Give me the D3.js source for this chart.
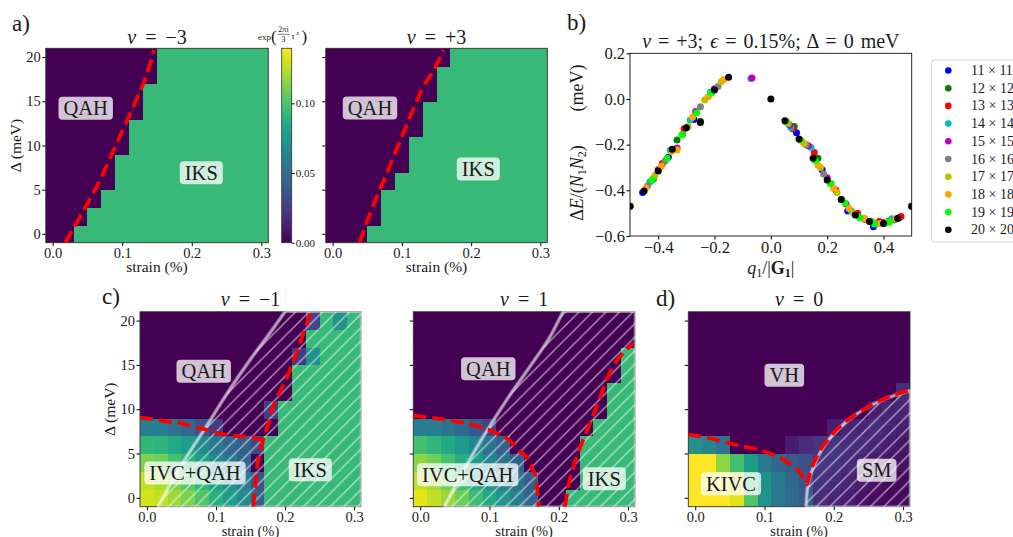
<!DOCTYPE html>
<html><head><meta charset="utf-8">
<script src="https://cdn.jsdelivr.net/npm/d3@7"></script>
<style>body{margin:0;background:#fff}svg{display:block}text{font-family:"Liberation Serif","DejaVu Serif",serif;fill:#1a1a1a}</style>
</head><body>
<svg id="fig" width="1013" height="537"></svg>
<script>
// ---------------- DATA ----------------
const strain = [0,0.02,0.04,0.06,0.08,0.10,0.12,0.14,0.16,0.18,0.20,0.22,0.24,0.26,0.28,0.30];
const delta = [0,2,4,6,8,10,12,14,16,18,20];
const strainTicks = [0,0.1,0.2,0.3];
const strainTickLabels = ["0.0","0.1","0.2","0.3"];
const deltaTicks = [0,5,10,15,20];
const cbTicks = [0,0.05,0.10];
const cbTickLabels = ["0.00","0.05","0.10"];
const VMAX = 0.1395;
const K = 0.094; // IKS order parameter

// rows: Delta = 0,2,...,20 ; columns: strain 0..0.30
const gridNuM3 = [
 [0,0,K,K,K,K,K,K,K,K,K,K,K,K,K,K],
 [0,0,0,K,K,K,K,K,K,K,K,K,K,K,K,K],
 [0,0,0,0,K,K,K,K,K,K,K,K,K,K,K,K],
 [0,0,0,0,0,K,K,K,K,K,K,K,K,K,K,K],
 [0,0,0,0,0,K,K,K,K,K,K,K,K,K,K,K],
 [0,0,0,0,0,0,K,K,K,K,K,K,K,K,K,K],
 [0,0,0,0,0,0,K,K,K,K,K,K,K,K,K,K],
 [0,0,0,0,0,0,0,K,K,K,K,K,K,K,K,K],
 [0,0,0,0,0,0,0,K,K,K,K,K,K,K,K,K],
 [0,0,0,0,0,0,0,0,K,K,K,K,K,K,K,K],
 [0,0,0,0,0,0,0,0,K,K,K,K,K,K,K,K]];
const gridNuP3 = [
 [0,0,0,K,K,K,K,K,K,K,K,K,K,K,K,K],
 [0,0,0,0,K,K,K,K,K,K,K,K,K,K,K,K],
 [0,0,0,0,K,K,K,K,K,K,K,K,K,K,K,K],
 [0,0,0,0,0,K,K,K,K,K,K,K,K,K,K,K],
 [0,0,0,0,0,0,K,K,K,K,K,K,K,K,K,K],
 [0,0,0,0,0,0,K,K,K,K,K,K,K,K,K,K],
 [0,0,0,0,0,0,0,K,K,K,K,K,K,K,K,K],
 [0,0,0,0,0,0,0,K,K,K,K,K,K,K,K,K],
 [0,0,0,0,0,0,0,0,K,K,K,K,K,K,K,K],
 [0,0,0,0,0,0,0,0,K,K,K,K,K,K,K,K],
 [0,0,0,0,0,0,0,0,0,K,K,K,K,K,K,K]];
const gridNuM1 = [
 [.130,.126,.119,.112,.101,.088,.077,.066,.042,K,K,K,K,K,K,K],
 [.126,.122,.112,.104,.092,.081,.070,.059,.035,K,K,K,K,K,K,K],
 [.112,.108,.098,.090,.078,.067,.056,.046,0,K,K,K,K,K,K,K],
 [.092,.090,.084,.077,.067,.056,.046,.042,.031,K,K,K,K,K,K,K],
 [.059,.059,.053,.046,.035,.025,0,0,0,0,K,K,K,K,K,K],
 [0,0,0,0,0,0,0,0,0,.025,K,K,K,K,K,K],
 [0,0,0,0,0,0,0,0,0,0,0,K,K,K,K,K],
 [0,0,0,0,0,0,0,0,0,0,0,K,K,K,K,K],
 [0,0,0,0,0,0,0,0,0,0,0,.025,.070,K,K,K],
 [0,0,0,0,0,0,0,0,0,0,0,0,K,K,K,K],
 [0,0,0,0,0,0,0,0,0,0,0,0,.028,K,.070,K]];
const gridNuP1 = [
 [.134,.126,.118,.108,.095,.084,.073,.059,.045,0,0,K,K,K,K,K],
 [.126,.120,.109,.098,.084,.073,.063,.053,.042,0,0,0,K,K,K,K],
 [.115,.109,.098,.087,.076,.064,.053,.042,0,0,0,0,K,K,K,K],
 [.098,.092,.084,.076,.064,.053,.042,0,0,0,0,0,K,K,K,K],
 [.059,.059,.053,.048,.039,.028,0,0,0,0,0,0,0,K,K,K],
 [0,0,0,0,0,0,0,0,0,0,0,0,0,0,K,K],
 [0,0,0,0,0,0,0,0,0,0,0,0,0,0,K,K],
 [0,0,0,0,0,0,0,0,0,0,0,0,0,0,0,K],
 [0,0,0,0,0,0,0,0,0,0,0,0,0,0,0,K],
 [0,0,0,0,0,0,0,0,0,0,0,0,0,0,0,0],
 [0,0,0,0,0,0,0,0,0,0,0,0,0,0,0,0]];
const gridNu0 = [
 [.140,.140,.140,.133,.101,.073,.056,.048,.039,.017,.014,.011,.007,.004,.003,.003],
 [.140,.140,.140,.126,.095,.070,.056,.046,.038,.020,.017,.014,.010,.007,.004,.003],
 [.140,.140,.115,.098,.077,.056,.046,.039,.034,.022,.021,.017,.014,.010,.007,.006],
 [.070,.063,.053,0,0,0,0,.011,.017,.021,.021,.018,.017,.014,.011,.008],
 [0,0,0,0,0,0,0,0,0,0,.011,.014,.014,.017,.014,.011],
 [0,0,0,0,0,0,0,0,0,0,0,0,0,.011,.014,.014],
 [0,0,0,0,0,0,0,0,0,0,0,0,0,0,0,.017],
 [0,0,0,0,0,0,0,0,0,0,0,0,0,0,0,0],
 [0,0,0,0,0,0,0,0,0,0,0,0,0,0,0,0],
 [0,0,0,0,0,0,0,0,0,0,0,0,0,0,0,0],
 [0,0,0,0,0,0,0,0,0,0,0,0,0,0,0,0]];

// phase boundaries [strain, Delta]
const bndNuM3 = [[0.018,-1],[0.039,1.9],[0.068,6.1],[0.092,10.25],[0.116,14.4],[0.135,18],[0.146,20.8]];
const bndNuP3 = [[0.039,-1],[0.054,2.3],[0.073,5.9],[0.092,9.5],[0.111,13.1],[0.130,16.5],[0.150,19.1],[0.160,20.8]];
const bndNuM1a = [[-0.01,9.05],[0.011,8.85],[0.031,8.6],[0.05,8.4],[0.069,8.0],[0.091,7.6],[0.108,7.2],[0.127,7.0],[0.147,6.85],[0.168,6.5]];
const bndNuM1b = [[0.154,-1],[0.157,1.4],[0.160,3.7],[0.166,5.9],[0.176,8.4],[0.182,10.1],[0.19,11.6],[0.20,13.1],[0.209,14.8],[0.217,16.5],[0.224,18.0],[0.231,19.5],[0.237,20.9]];
const bndNuP1a = [[-0.01,9.26],[0.0155,9.04],[0.04,8.77],[0.068,8.4],[0.0925,7.83],[0.112,7.26],[0.131,6.32],[0.145,5.19],[0.155,4.43],[0.162,3.3],[0.167,2.17],[0.169,1.04],[0.171,-1]];
const bndNuP1b = [[0.209,-1],[0.213,1.04],[0.222,3.68],[0.234,6.3],[0.246,8.58],[0.259,11.2],[0.27,13.5],[0.283,15.4],[0.295,16.5],[0.308,17.45]];
const bndNu0 = [[-0.01,7.12],[0.0155,6.82],[0.04,6.37],[0.068,5.81],[0.0925,5.43],[0.112,4.86],[0.131,4.11],[0.145,3.36],[0.155,2.42],[0.161,1.5],[0.1656,2.8],[0.1767,4.87],[0.1935,6.75],[0.2176,8.63],[0.2464,10.13],[0.275,11.26],[0.308,12.09]];
// hatched region edges
const edgeNuM1 = [[0.016,-1],[0.05,3.7],[0.084,7.8],[0.118,12.0],[0.151,15.75],[0.18,18.8],[0.20,21]];
const edgeNuP1 = [[0.035,-1],[0.064,3.3],[0.0925,7.1],[0.126,11.2],[0.16,15.0],[0.189,18.4],[0.206,21]];
const edgeNu0 = [[0.16,-1],[0.162,1.1],[0.17,3.35],[0.184,5.6],[0.203,7.5],[0.232,9.4],[0.266,10.9],[0.31,12.1]];

// panel b: dispersion, [q1/|G1|, dE/(N1N2)]
const sizeLabels = ["11 × 11","12 × 12","13 × 13","14 × 14","15 × 15","16 × 16","17 × 17","18 × 18","19 × 19","20 × 20"];
const sizeColors = ["#0000ff","#008000","#ff0000","#00bfbf","#bf00bf","#808080","#bfbf00","#ffa500","#00ff00","#000000"];
const disp11 = [[-0.455,-0.41],[-0.364,-0.255],[-0.273,-0.09],[0.091,-0.148],[0.182,-0.31],[0.273,-0.49],[0.364,-0.56],[0.455,-0.52]];
const disp12 = [[-0.5,-0.47],[-0.417,-0.35],[-0.333,-0.18],[-0.25,-0.097],[0.083,-0.12],[0.167,-0.26],[0.25,-0.44],[0.333,-0.525],[0.417,-0.535],[0.5,-0.47]];
const disp13 = [[-0.385,-0.282],[-0.308,-0.13],[0.077,-0.13],[0.154,-0.234],[0.231,-0.40],[0.308,-0.50],[0.385,-0.537],[0.462,-0.515]];
const disp14 = [[-0.5,-0.47],[-0.429,-0.362],[-0.357,-0.225],[-0.286,-0.092],[-0.214,0.03],[-0.071,0.09],[0.071,-0.125],[0.143,-0.213],[0.214,-0.37],[0.286,-0.49],[0.357,-0.535],[0.429,-0.525],[0.5,-0.47]];
const disp15 = [[-0.4,-0.31],[-0.333,-0.215],[-0.267,-0.055],[-0.2,0.045],[-0.067,0.092],[0.067,-0.115],[0.133,-0.205],[0.2,-0.345],[0.267,-0.46],[0.333,-0.527],[0.4,-0.541]];
const disp16 = [[-0.5,-0.47],[-0.4375,-0.38],[-0.375,-0.27],[-0.3125,-0.155],[-0.25,-0.034],[-0.1875,0.055],[0.0625,-0.11],[0.125,-0.2],[0.1875,-0.328],[0.25,-0.44],[0.3125,-0.515],[0.375,-0.545],[0.4375,-0.53],[0.5,-0.47]];
const disp17 = [[-0.412,-0.335],[-0.353,-0.23],[-0.294,-0.12],[-0.235,-0.004],[-0.176,0.075],[0.059,-0.105],[0.118,-0.195],[0.176,-0.3],[0.235,-0.41],[0.294,-0.5],[0.353,-0.535],[0.412,-0.54]];
const disp18 = [[-0.5,-0.47],[-0.444,-0.39],[-0.389,-0.295],[-0.333,-0.223],[-0.278,-0.08],[-0.222,0.01],[-0.167,0.085],[0.056,-0.1],[0.111,-0.185],[0.167,-0.289],[0.222,-0.39],[0.278,-0.48],[0.333,-0.525],[0.389,-0.545],[0.444,-0.525],[0.5,-0.47]];
const disp19 = [[-0.421,-0.355],[-0.368,-0.26],[-0.316,-0.158],[-0.263,-0.06],[-0.211,0.025],[0.053,-0.1],[0.105,-0.18],[0.158,-0.27],[0.211,-0.37],[0.263,-0.455],[0.316,-0.52],[0.368,-0.547],[0.421,-0.54]];
const disp20 = [[-0.5,-0.47],[-0.45,-0.403],[-0.4,-0.315],[-0.35,-0.22],[-0.3,-0.126],[-0.25,-0.103],[-0.2,0.039],[-0.15,0.095],[0,0],[0.05,-0.095],[0.1,-0.175],[0.15,-0.26],[0.2,-0.355],[0.25,-0.44],[0.3,-0.508],[0.35,-0.537],[0.4,-0.545],[0.45,-0.523],[0.5,-0.47]];
const qTicks = [-0.4,-0.2,0,0.2,0.4];
const eTicks = [-0.6,-0.4,-0.2,0,0.2];

// ---------------- DRAW ----------------
const FONT = '"Liberation Serif","DejaVu Serif",serif';
const svg = d3.select("#fig");
const defs = svg.append("defs");
const color = v => d3.interpolateViridis(Math.max(0, Math.min(1, v / VMAX)));
let clipN = 0;
function clip(x0,y0,w,h){const id="cp"+(clipN++);defs.append("clipPath").attr("id",id).append("rect").attr("x",x0).attr("y",y0).attr("width",w).attr("height",h);return `url(#${id})`;}

const hp = defs.append("pattern").attr("id","hatch").attr("patternUnits","userSpaceOnUse").attr("width",13.5).attr("height",13.5);
hp.append("path").attr("d","M-2,2 L2,-2 M0,13.5 L13.5,0 M11.5,15.5 L15.5,11.5").attr("stroke","rgba(255,255,255,0.6)").attr("stroke-width",1.3);

function label(x,y,t,size){svg.append("text").attr("x",x).attr("y",y).attr("font-size",size).text(t);}

function box(cx,cy,t){
  const g = svg.append("g");
  const tx = g.append("text").attr("x",cx).attr("y",cy+6.8).attr("text-anchor","middle").attr("font-size",20.5).text(t);
  const w = tx.node().getComputedTextLength();
  g.insert("rect","text").attr("x",cx-w/2-5).attr("y",cy-11.5).attr("width",w+10).attr("height",23).attr("rx",4)
   .attr("fill","rgba(255,255,255,0.76)");
}

function title(cx,y,rest){
  const t = svg.append("text").attr("x",cx).attr("y",y).attr("text-anchor","middle").attr("font-size",20).attr("word-spacing",4);
  t.append("tspan").attr("font-style","italic").text("ν");
  t.append("tspan").text(" = "+rest);
}

function heatPanel(c){
  const xs = d3.scaleLinear().domain([-0.01,0.31]).range([c.x0,c.x1]);
  const ys = d3.scaleLinear().domain([-1,21]).range([c.y1,c.y0]);
  const cp = clip(c.x0,c.y0,c.x1-c.x0,c.y1-c.y0);
  const g = svg.append("g");
  const cells = [];
  c.grid.forEach((row,j)=>row.forEach((v,i)=>cells.push({s:strain[i],d:delta[j],v})));
  g.append("g").attr("clip-path",cp).selectAll("rect").data(cells).join("rect")
    .attr("x",d=>xs(d.s-0.01)).attr("width",d=>xs(d.s+0.01)-xs(d.s-0.01)+0.6)
    .attr("y",d=>ys(d.d+1)).attr("height",d=>ys(d.d-1)-ys(d.d+1)+0.6)
    .attr("fill",d=>color(d.v)).attr("shape-rendering","crispEdges");
  g.append("rect").attr("x",c.x0).attr("y",c.y0).attr("width",c.x1-c.x0).attr("height",c.y1-c.y0)
    .attr("fill","none").attr("stroke","#333").attr("stroke-width",0.9);
  const line = d3.line().x(p=>xs(p[0])).y(p=>ys(p[1])).curve(d3.curveMonotoneX);
  if (c.edge){
    const dpath = line(c.edge) + c.corners.map(p=>"L"+xs(p[0])+","+ys(p[1])).join("") + "Z";
    g.append("path").attr("d",dpath).attr("fill","url(#hatch)").attr("clip-path",cp);
    g.append("path").attr("d",dpath).attr("fill","none").attr("stroke","rgba(255,255,255,0.45)").attr("stroke-width",2.4);
    g.append("path").attr("d",line(c.edge)).attr("fill","none").attr("stroke","rgba(255,255,255,0.3)").attr("stroke-width",4).attr("clip-path",cp);
  }
  c.bnd.forEach(b=>{
    g.append("path").attr("d",line(b)).attr("fill","none").attr("stroke","#ff0000").attr("stroke-width",3.8)
      .attr("stroke-dasharray","13,6").attr("clip-path",cp);
  });
  const ax = g.append("g").attr("transform",`translate(0,${c.y1})`)
    .call(d3.axisBottom(xs).tickValues(strainTicks).tickFormat((d,i)=>strainTickLabels[i]).tickSize(3.5).tickPadding(1.5));
  ax.select(".domain").remove();
  ax.attr("font-family",FONT).attr("font-size",14.5);
  ax.selectAll("text").attr("fill","#333");
  const ay = g.append("g").attr("transform",`translate(${c.x0},0)`)
    .call(d3.axisLeft(ys).tickValues(deltaTicks).tickFormat(c.yLabels ? (d=>d) : "").tickSize(3.5).tickPadding(1.5));
  ay.select(".domain").remove();
  ay.attr("font-family",FONT).attr("font-size",14.5);
  ay.selectAll("text").attr("fill","#333");
  c.labels.forEach(l=>box(l[1],l[2],l[0]));
  title((c.x0+c.x1)/2, c.ty, c.nu);
  svg.append("text").attr("x",(c.x0+c.x1)/2).attr("y",c.xly).attr("text-anchor","middle").attr("font-size",c.xlfs).attr("fill","#333").text("strain (%)");
  if (c.yLabels){
    svg.append("text").attr("transform",`translate(${c.ylx},${(c.y0+c.y1)/2}) rotate(-90)`).attr("text-anchor","middle").attr("font-size",15.5).attr("fill","#333").text("Δ (meV)");
  }
}

heatPanel({x0:45.7,x1:268.3,y0:48.3,y1:242.7,grid:gridNuM3,yLabels:true,ylx:21,nu:"−3",ty:44,xly:272,xlfs:15.5,
  bnd:[bndNuM3],labels:[["QAH",85.7,108.3],["IKS",201.3,172.7]]});
heatPanel({x0:325.7,x1:547.3,y0:48.3,y1:242.7,grid:gridNuP3,yLabels:false,nu:"+3",ty:44,xly:272,xlfs:15.5,
  bnd:[bndNuP3],labels:[["QAH",370,108],["IKS",478.3,169]]});
heatPanel({x0:140,x1:361,y0:311.7,y1:506.7,grid:gridNuM1,yLabels:true,ylx:115,nu:"−1",ty:306,xly:535.5,xlfs:14.5,
  bnd:[bndNuM1a,bndNuM1b],edge:edgeNuM1,corners:[[0.31,21],[0.31,-1]],
  labels:[["QAH",203.7,371.3],["IVC+QAH",195,473],["IKS",310.3,469.7]]});
heatPanel({x0:413.3,x1:635,y0:311.7,y1:506.7,grid:gridNuP1,yLabels:false,nu:"1",ty:306,xly:535.5,xlfs:14.5,
  bnd:[bndNuP1a,bndNuP1b],edge:edgeNuP1,corners:[[0.31,21],[0.31,-1]],
  labels:[["QAH",488.3,368.7],["IVC+QAH",467.7,474.7],["IKS",604.3,478.7]]});
heatPanel({x0:688.3,x1:910,y0:311.7,y1:506.7,grid:gridNu0,yLabels:false,nu:"0",ty:306,xly:535.5,xlfs:14.5,
  bnd:[bndNu0],edge:edgeNu0,corners:[[0.31,-1]],
  labels:[["VH",784.3,375.3],["KIVC",731,483.7],["SM",876.7,470.3]]});

// colorbar
(function(){
  const x0=281.7,w=10,y0=48.3,y1=242.7;
  const cs = d3.scaleLinear().domain([0,VMAX]).range([y1,y0]);
  const grad = defs.append("linearGradient").attr("id","vir").attr("x1",0).attr("y1",1).attr("x2",0).attr("y2",0);
  d3.range(0,1.0001,0.05).forEach(t=>grad.append("stop").attr("offset",t).attr("stop-color",d3.interpolateViridis(t)));
  svg.append("rect").attr("x",x0).attr("y",y0).attr("width",w).attr("height",y1-y0).attr("fill","url(#vir)").attr("stroke","#333").attr("stroke-width",0.8);
  const ax = svg.append("g").attr("transform",`translate(${x0+w},0)`)
    .call(d3.axisRight(cs).tickValues(cbTicks).tickFormat((d,i)=>cbTickLabels[i]).tickSize(3).tickPadding(1));
  ax.select(".domain").remove();
  ax.attr("font-family",FONT).attr("font-size",11);
  ax.selectAll("text").attr("fill","#333");
  const g = svg.append("g").attr("fill","#222");
  g.append("text").attr("x",258).attr("y",39.5).attr("font-size",9).text("exp");
  g.append("text").attr("x",271).attr("y",41.5).attr("font-size",17).text("(");
  g.append("text").attr("x",283.5).attr("y",32).attr("font-size",8).attr("text-anchor","middle").text("2πi");
  g.append("line").attr("x1",277.5).attr("x2",289.5).attr("y1",34.3).attr("y2",34.3).attr("stroke","#222").attr("stroke-width",0.6);
  g.append("text").attr("x",283.5).attr("y",41.5).attr("font-size",8).attr("text-anchor","middle").text("3");
  g.append("text").attr("x",291.5).attr("y",39).attr("font-size",9).attr("font-style","italic").text("τ");
  g.append("text").attr("x",296.5).attr("y",35).attr("font-size",6).attr("font-style","italic").text("z");
  g.append("text").attr("x",301.5).attr("y",41.5).attr("font-size",17).text(")");
})();

// panel b
(function(){
  const x0=630,x1=911.7,y0=53.3,y1=236;
  const xs = d3.scaleLinear().domain([-0.5,0.5]).range([x0,x1]);
  const ys = d3.scaleLinear().domain([-0.6,0.2]).range([y1,y0]);
  const cp = clip(x0,y0,x1-x0,y1-y0);
  const all = [disp11,disp12,disp13,disp14,disp15,disp16,disp17,disp18,disp19,disp20];
  const pg = svg.append("g").attr("clip-path",cp);
  all.forEach((s,k)=>{
    pg.append("g").selectAll("circle").data(s).join("circle")
      .attr("cx",d=>xs(d[0])).attr("cy",d=>ys(d[1])).attr("r",3.5).attr("fill",sizeColors[k]);
  });
  svg.append("rect").attr("x",x0).attr("y",y0).attr("width",x1-x0).attr("height",y1-y0).attr("fill","none").attr("stroke","#111").attr("stroke-width",0.9);
  const fmt = d3.format(".1f");
  const ax = svg.append("g").attr("transform",`translate(0,${y1})`).call(d3.axisBottom(xs).tickValues(qTicks).tickFormat(fmt).tickSize(3.5).tickPadding(1.5));
  ax.select(".domain").remove(); ax.attr("font-family",FONT).attr("font-size",16.5); ax.selectAll("text").attr("fill","#333");
  const ay = svg.append("g").attr("transform",`translate(${x0},0)`).call(d3.axisLeft(ys).tickValues(eTicks).tickFormat(fmt).tickSize(3.5).tickPadding(1.5));
  ay.select(".domain").remove(); ay.attr("font-family",FONT).attr("font-size",16.5); ay.selectAll("text").attr("fill","#333");
  const t = svg.append("text").attr("x",(x0+x1)/2).attr("y",48).attr("text-anchor","middle").attr("font-size",20).attr("word-spacing",2);
  t.append("tspan").attr("font-style","italic").text("ν");
  t.append("tspan").text(" = +3; ");
  t.append("tspan").attr("font-style","italic").text("ϵ");
  t.append("tspan").text(" = 0.15%;  Δ = 0 meV");
  const yl = svg.append("text").attr("transform","translate(583,183) rotate(-90)").attr("text-anchor","middle").attr("font-size",18).attr("fill","#333");
  yl.append("tspan").text("Δ");
  yl.append("tspan").attr("font-style","italic").text("E");
  yl.append("tspan").text("/(");
  yl.append("tspan").attr("font-style","italic").text("N");
  yl.append("tspan").attr("font-size",12).attr("dy",3).text("1");
  yl.append("tspan").attr("font-style","italic").attr("dy",-3).text("N");
  yl.append("tspan").attr("font-size",12).attr("dy",3).text("2");
  yl.append("tspan").attr("dy",-3).text(")");
  svg.append("text").attr("transform","translate(583,88) rotate(-90)").attr("text-anchor","middle").attr("font-size",18).attr("fill","#333").text("(meV)");
  const xl = svg.append("text").attr("x",(x0+x1)/2).attr("y",274).attr("text-anchor","middle").attr("font-size",18).attr("fill","#333");
  xl.append("tspan").attr("font-style","italic").text("q");
  xl.append("tspan").attr("font-size",12).attr("dy",3).text("1");
  xl.append("tspan").attr("dy",-3).text("/|");
  xl.append("tspan").attr("font-weight","bold").text("G");
  xl.append("tspan").attr("font-size",12).attr("font-weight","bold").attr("dy",3).text("1");
  xl.append("tspan").attr("dy",-3).text("|");
  svg.append("rect").attr("x",931.7).attr("y",60).attr("width",100).attr("height",182).attr("rx",3)
    .attr("fill","#fff").attr("stroke","#d0d0d0").attr("stroke-width",1);
  sizeLabels.forEach((s,i)=>{
    const y = 70.5 + i*17.7;
    svg.append("circle").attr("cx",948.3).attr("cy",y).attr("r",3.3).attr("fill",sizeColors[i]);
    svg.append("text").attr("x",971).attr("y",y+4.5).attr("font-size",14).attr("fill","#333").text(s);
  });
})();

label(12,31,"a)",23);
label(567,30,"b)",23);
label(102,304,"c)",23);
label(656,306,"d)",23);
</script>
</body></html>
